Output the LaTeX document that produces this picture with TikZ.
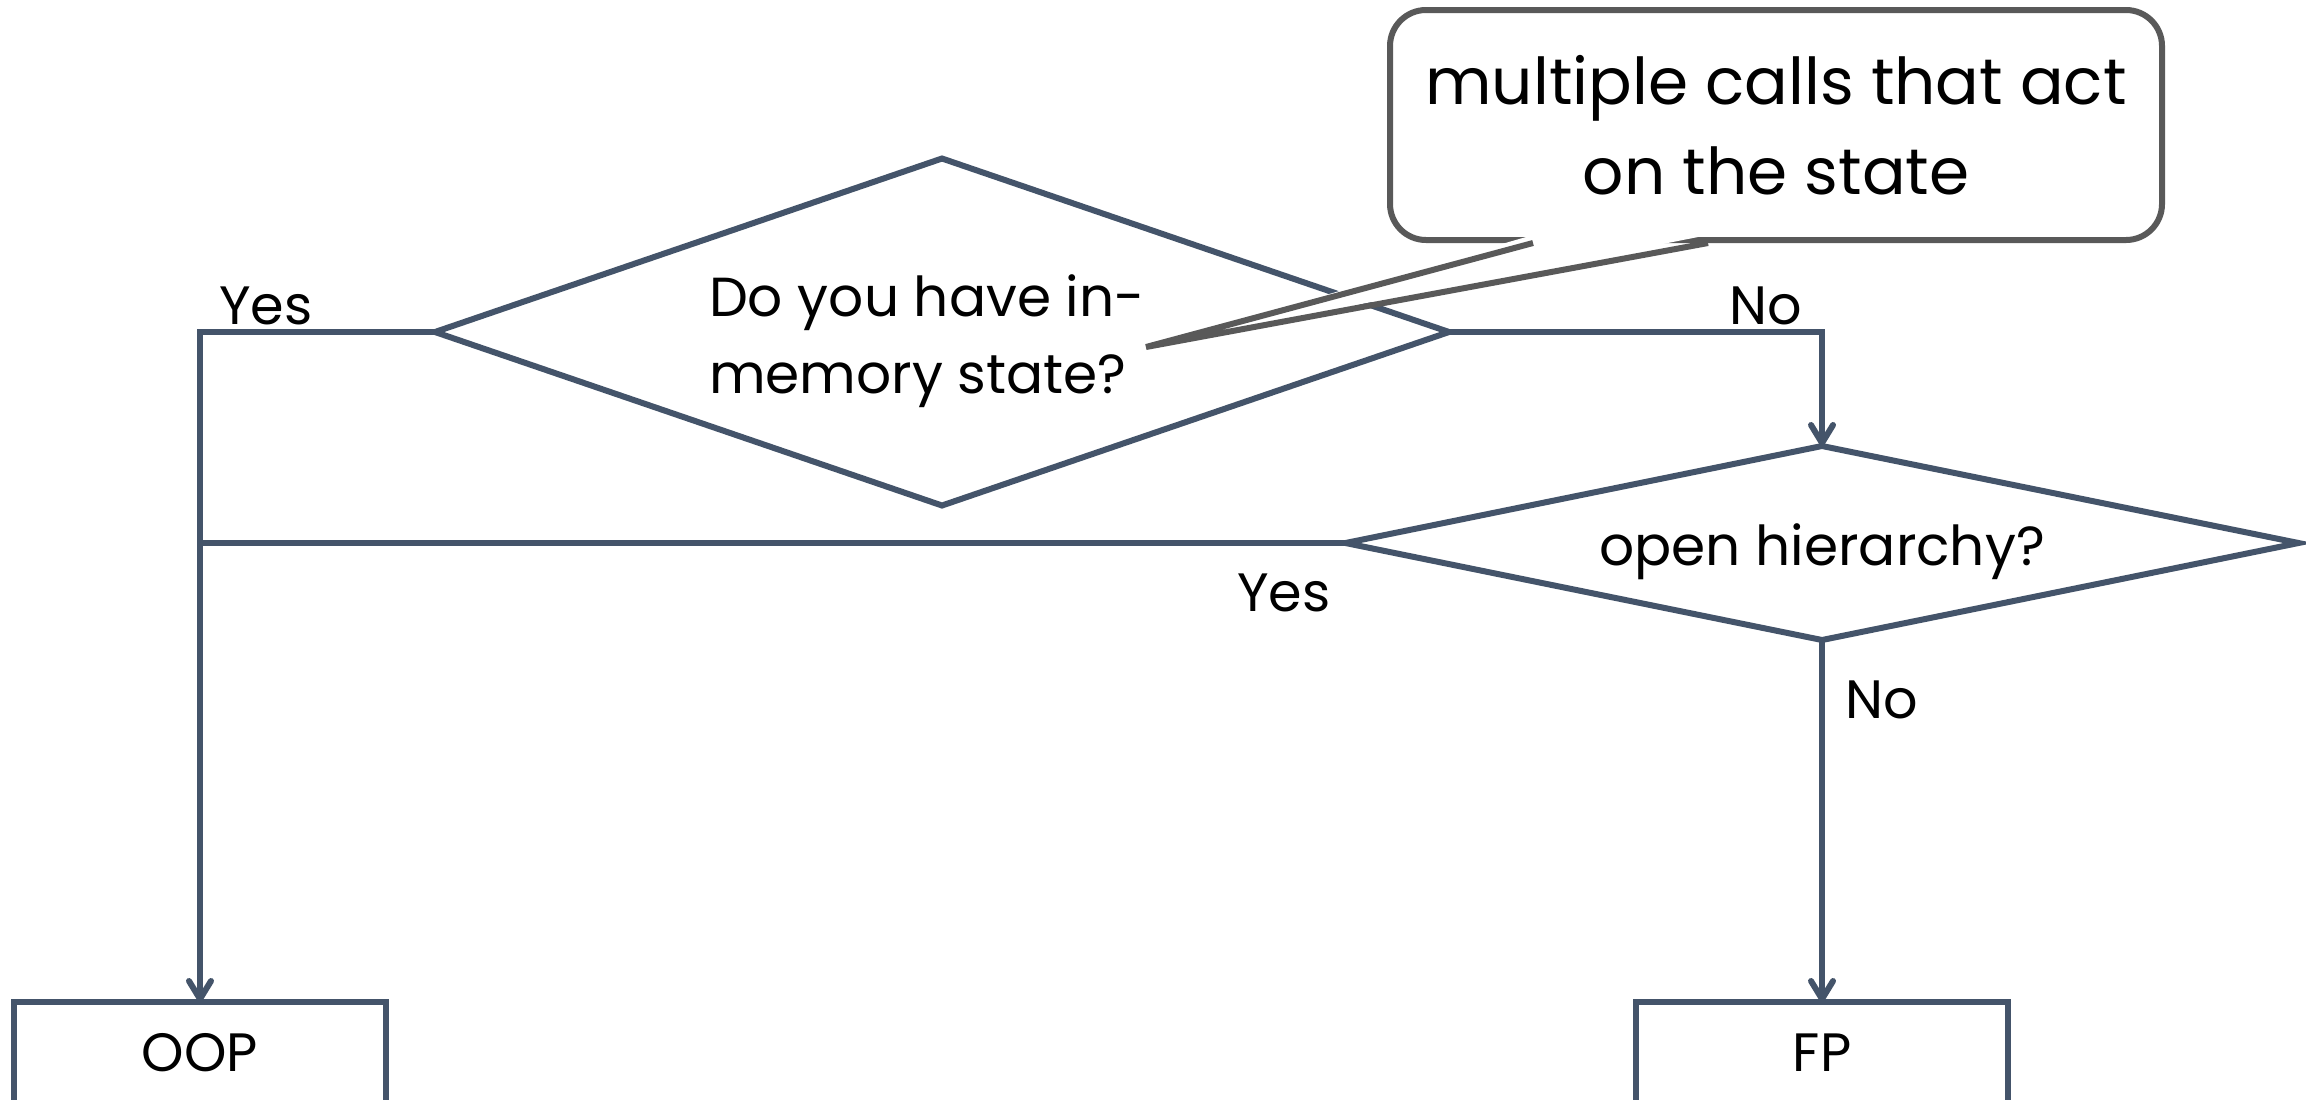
\documentclass[tikz,border=0pt]{standalone}
\usepackage{fontspec}
\setmainfont{Poppins}
\usetikzlibrary{shapes.geometric,arrows.meta,calc}
\definecolor{flow}{HTML}{44546A}
\definecolor{notegray}{HTML}{595959}

\begin{document}
\begin{tikzpicture}[x=0.5pt,y=-0.5pt,
  flowline/.style={draw=flow,line width=3pt},
  arrowline/.style={flowline,-{Straight Barb[length=9pt,width=11pt,line cap=round,line join=round]}},
  decision/.style={diamond,draw=flow,line width=3pt,fill=white,inner sep=0pt,outer sep=0pt,
    align=left,font=\fontsize{27.5}{38.5}\selectfont},
  result/.style={rectangle,draw=flow,line width=3pt,inner sep=0pt,outer sep=0pt,
    minimum width=186pt,minimum height=51pt,font=\fontsize{27}{32}\selectfont},
  lbl/.style={font=\fontsize{27}{32}\selectfont,inner sep=0pt},
  notebox/.style={rectangle,rounded corners=18pt,draw=notegray,line width=3pt,fill=white,
    align=center,font=\fontsize{32.3}{45}\selectfont,minimum width=386pt,minimum height=115pt}
]
% canvas
\fill[white] (0,0) rectangle (2306,1099);
\useasboundingbox (0,0) rectangle (2306,1099);

% decisions
\node[decision,aspect=2.92,minimum width=507pt,minimum height=173.5pt] (d1) at (942,332)
  {\rule{0pt}{30pt}Do you have in-\hspace*{15pt}\\memory state?};
\node[decision,aspect=4.9,minimum width=476.5pt,minimum height=97pt] (d2) at (1822,543)
  {\rule{0pt}{30pt}open hierarchy?};

% outcomes
\node[result] (oop) at (200,1053) {OOP};
\node[result] (fp) at (1822,1053) {FP};

% connectors
\draw[arrowline] (d1.west) -| (oop.north);
\draw[arrowline] (d1.east) -| (d2.north);
\draw[flowline] (d2.west) -- (d2.west -| oop.north);
\draw[arrowline] (d2.south) -- (fp.north);

% branch labels
\node[lbl] (yes1) at (266,306) {Yes};
\node[lbl] (no1) at (1766,306) {No};
\node[lbl] (yes2) at (1284,593) {Yes};
\node[lbl] (no2) at (1882,700) {No};

% callout note with its pointer
\node[notebox] (note) at (1776,125) {multiple calls that act\\on the state};
\coordinate (tip) at (1146,347);
\coordinate (pa) at ($(note.south west)+(146,0)$);
\coordinate (pb) at ($(note.south west)+(321,0)$);
\fill[white] ($(pa)+(0,-8)$) -- (tip) -- ($(pb)+(0,-8)$) -- cycle;
\draw[notegray,line width=3pt] (pa) -- (tip) -- (pb);
\end{tikzpicture}
\end{document}
